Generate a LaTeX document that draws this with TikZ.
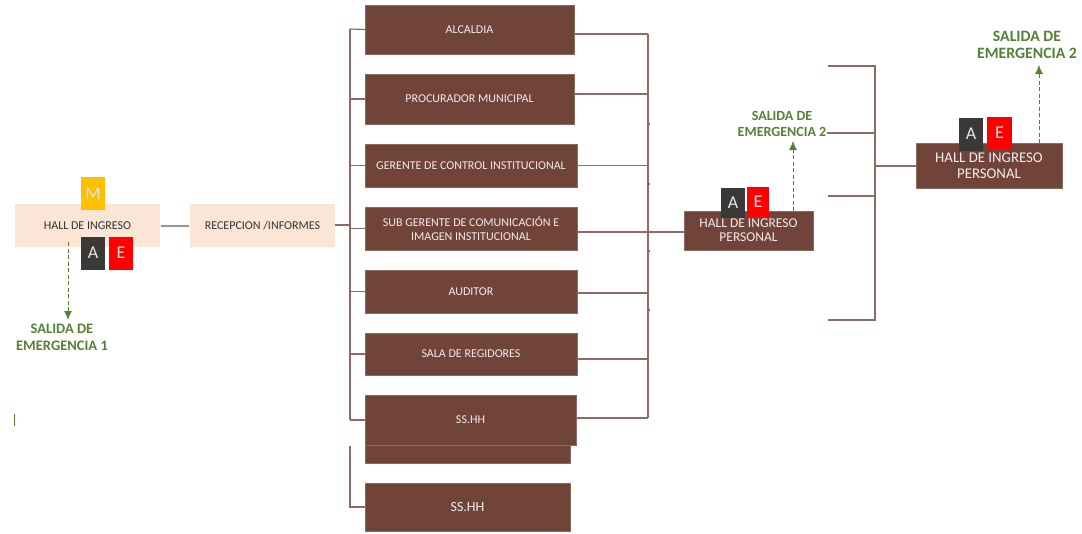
\documentclass[tikz,border=0pt]{standalone}
\usepackage{fontspec}
\setmainfont{Carlito}
\usetikzlibrary{arrows.meta}
\definecolor{cafe}{HTML}{71443A}
\definecolor{linea}{HTML}{8F6A62}
\definecolor{crema}{HTML}{FBE5D6}
\definecolor{oscuro}{HTML}{3B3838}
\definecolor{verde}{HTML}{548235}
\definecolor{ambar}{HTML}{FFC000}
\begin{document}
\begin{tikzpicture}[x=1pt, y=-1pt, thick,
		ambiente/.style = {fill=cafe, draw=cafe!80!white, line width=.5pt, text=white!90!cafe, inner sep=0pt, align=center, font=\fontsize{12}{14}\selectfont},
		ingreso/.style = {fill=crema, text=black!80, inner sep=0pt, minimum width=145pt, minimum height=43pt, font=\fontsize{12}{14}\selectfont},
		letra/.style = {text=white!90!black, inner sep=0pt, minimum width=24pt, minimum height=33pt, font=\fontsize{18}{20}\selectfont},
		salida/.style = {text=verde, inner sep=0pt, align=center, font=\bfseries\fontsize{14.5}{17}\selectfont},
		rama/.style = {draw=linea, line width=1.2pt},
		escape/.style = {draw=verde, dash pattern=on 4pt off 2.5pt, line width=.9pt, -{Latex[length=9pt,width=8pt]}}]
	\useasboundingbox (0,0) rectangle (1082,533);
	% buses
	\coordinate (b1) at (350,29);
	\coordinate (b2) at (350,420);
	\coordinate (b3) at (350,446);
	\coordinate (b4) at (350,225);
	\coordinate (d1) at (648,34);
	\coordinate (d2) at (648,418);
	\coordinate (d3) at (648,232);
	\coordinate (e1) at (828,66);
	\coordinate (e2) at (875,66);
	\coordinate (e3) at (875,320);
	\coordinate (e4) at (828,320);
	\coordinate (e5) at (875,133);
	\coordinate (e6) at (828,196);
	\coordinate (e7) at (875,196);
	\coordinate (e8) at (875,166);
	\coordinate (t1) at (14,414);
	\coordinate (t2) at (14,426);
	% left column
	\node[ingreso] (hall) at (87.5,225.5) {HALL DE INGRESO};
	\node[ingreso] (recepcion) at (262.5,225.5) {RECEPCION /INFORMES};
	\node[letra, fill=ambar] (m1) at (93,193.5) {M};
	\node[letra, fill=oscuro] (a1) at (93,253) {A};
	\node[letra, fill=red] (e1b) at (121,253) {E};
	\coordinate (s1) at (68,242);
	\coordinate (s2) at (68,320);
	\node[salida] (salida1) at (62,337.5) {SALIDA DE\\EMERGENCIA 1};
	% rooms
	\node[ambiente, minimum width=208.5pt, minimum height=49pt] (alcaldia) at (469.5,29.5) {ALCALDIA};
	\node[ambiente, minimum width=208.5pt, minimum height=50pt] (procurador) at (469.5,99) {PROCURADOR MUNICIPAL};
	\node[ambiente, minimum width=211.5pt, minimum height=43pt] (gerente) at (471,165.5) {GERENTE DE CONTROL INSTITUCIONAL};
	\node[ambiente, minimum width=211.5pt, minimum height=43pt] (subgerente) at (471,228.5) {SUB GERENTE DE COMUNICACIÓN E\\IMAGEN INSTITUCIONAL};
	\node[ambiente, minimum width=211.5pt, minimum height=43pt] (auditor) at (471,291.5) {AUDITOR};
	\node[ambiente, minimum width=211.5pt, minimum height=42pt] (regidores) at (471,354) {SALA DE REGIDORES};
	\node[ambiente, minimum width=204.5pt, minimum height=18pt] (franja) at (467.5,454) {};
	\node[ambiente, minimum width=210.5pt, minimum height=50pt] (sshh1) at (470.5,420) {SS.HH};
	\node[ambiente, minimum width=204.5pt, minimum height=48pt, font=\fontsize{14}{16}\selectfont] (sshh2) at (467.5,507) {SS.HH};
	% middle hall
	\node[ambiente, minimum width=128.5pt, minimum height=39pt, font=\fontsize{13.5}{14}\selectfont] (hall2) at (748.5,230.5) {HALL DE INGRESO\\PERSONAL};
	\node[letra, fill=oscuro, minimum height=30pt] (a2) at (733,203) {A};
	\node[letra, fill=red, minimum width=22pt, minimum height=30pt] (e2b) at (758,202) {E};
	\coordinate (s3) at (793,211);
	\coordinate (s4) at (793,141);
	\node[salida, font=\bfseries\fontsize{14}{16}\selectfont] (salida2) at (782,124) {SALIDA DE\\EMERGENCIA 2};
	% right hall
	\node[ambiente, minimum width=145.5pt, minimum height=45pt, font=\fontsize{14.8}{16}\selectfont] (hall3) at (989,165.5) {HALL DE INGRESO\\PERSONAL};
	\node[letra, fill=oscuro] (a3) at (971,134) {A};
	\node[letra, fill=red, minimum width=25pt] (e3b) at (999.5,133) {E};
	\coordinate (s5) at (1039,143);
	\coordinate (s6) at (1039,65);
	\node[salida, font=\bfseries\fontsize{15.8}{17}\selectfont] (salida3) at (1027,44.5) {SALIDA DE\\EMERGENCIA 2};
	% connectors
	\draw[rama, line width=2pt, draw=linea!75!white, shorten <=1pt, shorten >=1pt] (hall) -- (recepcion);
	\draw[rama, line width=1.8pt] (recepcion.east |- b4) -- (b4);
	\draw[rama] (b1) -- (b2);
	\draw[rama] (b3) |- (sshh2.west);
	\draw[rama] (b1) -- (alcaldia.west);
	\draw[rama] (b1 |- procurador.west) -- (procurador.west);
	\draw[rama] (b1 |- gerente.west) -- (gerente.west);
	\draw[rama] (b1 |- subgerente.west) -- (subgerente.west);
	\draw[rama] (b1 |- auditor.west) -- (auditor.west);
	\draw[rama] (b1 |- regidores.west) -- (regidores.west);
	\draw[rama] (b2) -- (sshh1.west);
	\draw[rama] (d1) -- (d2);
	\draw[rama] (alcaldia.east |- d1) -- (d1);
	\draw[rama] ([yshift=5pt]procurador.east) -- (d1 |- 0,94);
	\draw[rama] (gerente.east) -- (d1 |- gerente.east);
	\draw[rama] (subgerente.east |- d3) -- (hall2.west |- d3);
	\draw[rama] ([yshift=-1.5pt]auditor.east) -- (d1 |- 0,293);
	\draw[rama] ([yshift=-5pt]regidores.east) -- (d1 |- 0,359);
	\draw[rama] (sshh1.east |- d2) -- (d2);
	\foreach \y in {124,184,251,310}
		\draw[rama] (d1 |- 0,\y) -- ++(2,0);
	\draw[rama] (e1) -- (e2) -- (e3) -- (e4);
	\draw[rama] (salida2.east |- e5) -- (e5);
	\draw[rama] (e6) -- (e7);
	\draw[rama, line width=1.8pt] (e8) -- (hall3.west |- e8);
	\draw[escape] (s1) -- (s2);
	\draw[escape] (s3) -- (s4);
	\draw[escape] (s5) -- (s6);
	\draw[draw=verde, line width=.8pt] (t1) -- (t2);
\end{tikzpicture}
\end{document}
